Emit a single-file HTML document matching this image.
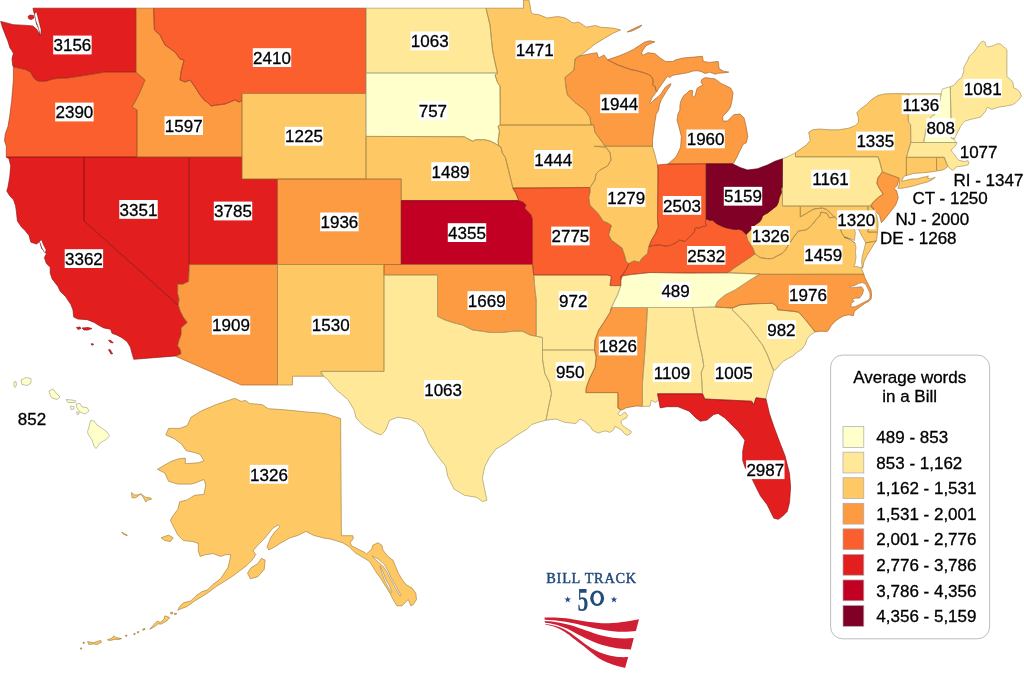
<!DOCTYPE html>
<html><head><meta charset="utf-8"><style>
html,body{margin:0;padding:0;background:#fff;}
body{width:1024px;height:673px;overflow:hidden;}
svg{display:block;will-change:transform;}
svg{font-family:"Liberation Sans",sans-serif;}
</style></head><body>
<svg width="1024" height="673" viewBox="0 0 1024 673">
<rect width="1024" height="673" fill="#fff"/>
<g stroke-width="0.5" stroke-linejoin="round">
<path d="M165.8,434.9 168.6,428.4 179.7,428.4 187.2,425.6 191.2,417.1 201.6,410.8 216.2,404.6 222.4,402.5 234.9,398.3 241.2,401.4 245.3,400.4 249.5,403.5 262,404.6 268.2,408.7 284.9,409.8 305.7,411.9 318.2,412.9 326.5,413.9 339,418.1 340.6,418.5 341.4,535.7 352.7,535.7 353.4,538.3 350.2,542.7 351.5,545.8 357.8,549 364.1,552.1 366.6,554 367.9,552.8 371.7,549 372.9,545.2 378,542.7 381.8,545.2 383,550.2 388.1,556.6 393.1,560.3 398.2,573 402,579.3 405.7,584.3 412,588.1 415.8,593.2 416.5,599.5 413.3,604.5 410.8,605.8 408.3,599.5 405.7,602 402,605.8 396.9,605.8 393.1,599.5 390.6,594.4 386.8,588.1 384.3,584.3 380.5,578 376.7,573 372.9,566.7 370.4,562.9 367.9,560.3 361.6,556.6 355.2,552.8 348.9,546.5 342.6,542.7 336.3,540.8 330,538.9 325,538.3 314,535.5 305.9,531.4 297.7,535.5 290,537.8 280,543.4 274.4,547.1 268.8,549.9 267,547.1 270.7,537.8 274.4,532.3 280,526.7 278.1,524.9 272.5,528.6 265.1,537.8 257.7,545.3 253,550.8 255.8,554.6 252.1,560.1 246.5,565.7 239.1,571.3 231.7,576.8 224.3,581.5 216.8,586.1 209.4,591.7 203.8,595.4 194.6,601 187.1,606.5 179.7,609.3 178.6,609.9 177.9,610.3 179.7,606.5 183.4,602.8 190.8,601 196.4,595.4 202,591.7 207.6,589.8 213.1,584.3 220.6,578.7 224.3,573.1 228,567.6 229.8,560.1 230.8,554.6 226.1,554.6 220.6,556.4 213.1,553.6 205.7,554.6 200.1,556.4 198.3,550.8 198.3,543.4 192.7,541.5 183.4,540.6 177.9,535 174.2,528 170.4,520.4 172.3,516.7 177.9,509.2 179.7,501.8 187.2,499.9 194.6,495.3 203.9,494.4 205.8,485.1 203.9,479.5 194.6,483.2 190.9,484.1 177.9,484.1 168.6,481.3 164.9,473 157.4,469.3 170.4,461.8 177.9,459 185.3,458.1 185.3,463.7 198.3,462.8 203.9,460.9 200.2,454.4 194.6,452.5 186.2,450.7 181.6,444.2 174.2,438.6ZM261.4,558.3 265.1,560.1 264.2,569.4 257.7,576.8 250.3,578.7 247.5,573.1 251.2,567.6 257.7,563.8ZM161.1,537.8 168.6,535.1 173.2,537.8 170.4,541.6 164.9,540.6ZM149.7,629.3 154.4,624 157.3,621.1 160.2,622.4 163.8,619.5 164.9,615.8 169.6,617.5 167.3,620.5 161.4,624 157.9,623.9 154.4,626.8ZM170.5,612.3 172.6,612.2 172.5,613.9 170.7,613.8ZM174.4,613.2 176.7,613.5 176.2,614.6 174.4,614.4ZM142.6,629 145,628.5 144.6,630 142.9,630.2ZM137.3,631.7 138.8,631.6 138.6,632.8 137.3,632.8ZM133.8,633.5 135.2,633.4 135,634.6 133.8,634.6ZM125.6,635.2 127,635.1 126.8,636.3 125.6,636.3ZM107.5,639.8 112.2,638 114,635.7 115.7,637.5 121.6,638.6 119.2,639.4 114.5,639.4 109.8,640.6ZM87.6,641.6 93.4,642.7 97,641.6 100.5,640.4 101.6,642.2 97,644.5 93.4,643.9 88.8,644.5ZM83,642.2 84.3,642.2 84.2,643.4 83,643.4ZM80.6,647.9 81.8,647.9 81.6,649.1 80.5,649.1ZM131.5,492.5 132.1,497.8 135.7,497.8 140.4,494.3 142.8,496.6 145.8,502 147.5,500.2 151.7,499 149.9,497.8 145.2,497.2 141,493.7 138,494.9 134.5,494.9ZM122,532 124,533.5 127.3,535 127,535.6 123.5,534.3 121.8,532.6Z" fill="#FEC965" stroke="#FEC965"/>
<path d="M14,382 16,381.5 16.5,385 15,387.5 14,386ZM21,380 26,377.5 31,378.5 31,383 27,385.5 22,384.5ZM49,391 53,389 56,393 60,397 57,399.5 52,398 50,395ZM66,399.5 72,400 76,401 75,402.5 68,402.5ZM70.5,406 74,406.5 74,409 71,409.5ZM76,404 80,403.5 82,407 87,407.5 89,411 85,414 80,412 77,408ZM76.5,412 79,412 79,414 77,414.5ZM90.5,420.5 94,421 97,425 103,429 107,432 109.7,435.9 106,439.5 100,443 96,448.6 94,446 92,440 88,434 87.6,431.2 89,427Z" fill="#FFFFCC" stroke="#FFFFCC"/>
<path d="M35,8.2 136,8.2 136,72 105,72 87,75 67,78 60,78.2 53.5,78.9 46.8,80.9 40,81.5 36,80.2 33.4,77.5 30.7,72.2 25.4,69.5 20,68.2 13.4,66.8 12.7,65.5 12,58.8 13.4,53.5 12,50.8 10,48 8,41.4 5.3,34.7 2.7,28 0.7,21.4 13.4,24.7 26.7,25.4 32.7,26 36.5,29 38.8,33 40,36 39,29 36.5,24 35,16 33.5,11 33,8.2ZM28,16.5 30,15 33.5,15.5 34,18 31.5,19.5 29,19Z" fill="#E31E1E" stroke="#E31E1E"/>
<path d="M13.4,66.8 20,68.2 25.4,69.5 30.7,72.2 33.4,77.5 36,80.2 40,81.5 46.8,80.9 53.5,78.9 60,78.2 67,78 87,75 105,72 136,72 145,80 140,92 135,102 132,107 137,110 137,157 6.3,157.1 6.3,146 4.5,140.7 5.4,133.6 8,126.4 9.8,115.7 11.6,101.4 12.5,90.7 13.4,80 13.4,69.5Z" fill="#FB5F2E" stroke="#FB5F2E"/>
<path d="M6.3,157.1 84,157 84,221 178.3,305.3 180.3,311.4 183.1,316.9 187.2,322.4 181,327.9 181,334.7 179,340.2 177.6,345.6 180.3,349.7 181,353.8 176.2,355.9 133.8,359.3 131.8,352.5 130.4,347 127,341.5 121.5,337.4 116.1,334.7 112,333.3 110.6,329.2 103.8,327.9 98.3,325.1 94.2,322.4 87.3,319.7 77.8,319 73.7,316.9 73,310.1 70.9,304.6 68.2,300.5 65.5,296.4 60,290.9 58,286.6 52.2,278.9 50.2,273.1 50.2,267.3 46.4,263.4 44.4,257.6 46.4,253.8 44.4,251.8 41.5,248 39.6,241.2 36.7,244.1 30.9,242.2 29,235.4 25.1,230.6 21.3,226.7 17.4,220.9 16.4,211.3 15.5,205.5 13.5,199.7 9.7,195.8 6.8,191 8,187.1 9.8,176.4 10.7,165.7 8.9,158.6ZM76.4,327.5 80,327 81,328.5 78,329.5ZM82,328 88,327.5 92,328.5 88,330 84,330ZM108.5,340.2 111,340.5 113.3,342.9 110.5,342.5ZM108.5,349.7 110,349.5 112.6,353.8 111,354ZM91.4,343.6 93.5,344 93,345 91.5,345Z" fill="#E31E1E" stroke="#E31E1E"/>
<path d="M84,157 189.25,157 189.25,264.5 188.5,281.4 185.8,282.7 183.1,284.1 177.6,284.1 177.6,293.7 179,299.1 178.3,305.3 84,221Z" fill="#E31E1E" stroke="#E31E1E"/>
<path d="M189.25,157 242,157 242,179 277.5,179 277.5,264.5 189.25,264.5Z" fill="#E31E1E" stroke="#E31E1E"/>
<path d="M189.25,264.5 277.5,264.5 277.5,385 241.25,385 176.2,356.5 176.2,355.9 181,353.8 180.3,349.7 177.6,345.6 179,340.2 181,334.7 181,327.9 187.2,322.4 183.1,316.9 180.3,311.4 178.3,305.3 179,299.1 177.6,293.7 177.6,284.1 183.1,284.1 185.8,282.7 188.5,281.4Z" fill="#FD9B42" stroke="#FD9B42"/>
<path d="M136,8.2 153.6,8.2 154.4,30 160,35 165,45 175,52 180,59 184,60 181,72 180,80 185,82 190,80 195,87 200,95 204,100 207,102 211,106 217,105 225,104 235,100 239,102 242,101 242,157 137,157 137,110 132,107 135,102 140,92 145,80 136,72Z" fill="#FD9B42" stroke="#FD9B42"/>
<path d="M153.6,8.2 366,8.2 366,93.5 242,93.5 242,101 239,102 235,100 225,104 217,105 211,106 207,102 204,100 200,95 195,87 190,80 185,82 180,80 181,72 184,60 180,59 175,52 165,45 160,35 154.4,30Z" fill="#FB5F2E" stroke="#FB5F2E"/>
<path d="M242,93.5 366,93.5 366,179 242,179Z" fill="#FEC965" stroke="#FEC965"/>
<path d="M277.5,179 401.25,179 401.25,264.5 277.5,264.5Z" fill="#FD9B42" stroke="#FD9B42"/>
<path d="M277.5,264.5 384,264.5 384,371.4 321,371.4 323.75,376.25 292.5,376.25 292.5,385 277.5,385Z" fill="#FEC965" stroke="#FEC965"/>
<path d="M366,8.2 486,8.2 490,25 492.5,50 495,62.5 497.5,73 366,73Z" fill="#FFE999" stroke="#FFE999"/>
<path d="M366,73 497.5,73 495,75 497.5,82.5 500,86 500.2,110 500.2,125 498,126.3 499.4,130.8 498.7,136.7 498,141.2 498.7,145.7 495,143.4 490.5,141.2 484.6,139.7 475.7,139.7 472.7,141.2 466.7,138.2 464.5,136.7 366,136.4Z" fill="#FFFFCC" stroke="#FFFFCC"/>
<path d="M366,136.4 464.5,136.7 466.7,138.2 472.7,141.2 475.7,139.7 484.6,139.7 490.5,141.2 495,143.4 498.7,145.7 500.9,147.1 502.4,153.1 505.4,157.5 506.9,163.5 508.4,169.4 509.8,175.4 511.3,181.3 512.8,188 515.8,193.2 518.8,200.6 401.25,200.6 401.25,179 366,179Z" fill="#FEC965" stroke="#FEC965"/>
<path d="M401.25,200.6 518.8,200.6 523.2,202.1 526.2,205.1 524.7,208.1 531.25,215 532.5,220 532.5,264.5 401.25,264.5Z" fill="#C20023" stroke="#C20023"/>
<path d="M384,264.5 532.5,264.5 533.75,275 535,290 536.25,300 536.25,336.25 530,335 522.5,331.25 512.5,331.25 502.5,332.5 490,332.5 482.5,331.25 472.5,330 462.5,325 452.5,322.5 445,320 437.5,316.25 437.5,275 384,275Z" fill="#FD9B42" stroke="#FD9B42"/>
<path d="M384,275 437.5,275 437.5,316.25 445,320 452.5,322.5 462.5,325 472.5,330 482.5,331.25 490,332.5 502.5,332.5 512.5,331.25 522.5,331.25 530,335 536.25,336.25 542.5,337.5 542.5,350 542.6,360 544.8,373.4 549.3,382.3 551.5,393.4 548.2,409 546,420.2 538.1,422.4 531.5,424.6 527,429.1 515.9,435.8 506.9,442.5 495.8,449.2 489.1,458.1 484.6,467 482.4,478.1 484.6,489.3 486.9,500.4 482.4,501.6 476.9,497.4 464.4,495.3 454,489 447.8,476.5 445.7,466.1 437.4,455.7 429,443.2 422.8,428.7 416.5,422.4 410.3,419.3 397.8,417.2 389.5,420.4 385.3,430.8 381.2,434.9 374.9,432.8 364.5,426.6 356.2,418.3 354.1,410 347.9,399.5 335.4,389.1 327,378.7 321,374.6 321,371.4 384,371.4Z" fill="#FFE999" stroke="#FFE999"/>
<path d="M533.75,275 607.5,275 611.4,276.2 610,285.6 620.8,285.6 617.5,295 613.75,302.5 610,312.5 603.75,322.5 598.75,330 595,340 594.5,350 542.5,350 542.5,337.5 536.25,336.25 536.25,300 535,290Z" fill="#FFE999" stroke="#FFE999"/>
<path d="M542.5,350 594.5,350 596.25,357.5 595,367.5 590,377.5 586.25,387.5 585.9,392.6 617.9,392.6 617.9,408 620.9,410 617.9,413.8 620.1,416 621.6,414.5 623.8,413 625.3,412.3 627.6,415.3 626.1,418.2 622.4,419.7 620.9,422 621.6,424.2 624.6,427.2 628.3,429.4 631.3,431.6 630.5,433.8 627.6,435.3 624.6,433.8 621.6,430.1 617.9,427.9 614.9,426.4 613.4,430.1 609.7,432.4 606,430.9 602.3,431.6 598.6,433.1 594.9,431.6 591.9,429.4 590.4,426.4 587.4,424.2 585.9,422 583,420.5 580,419 576,423.5 564.9,422.4 556,419 546,420.2 548.2,409 551.5,393.4 549.3,382.3 544.8,373.4 542.6,360Z" fill="#FFE999" stroke="#FFE999"/>
<path d="M611.25,307.5 647.5,307.5 645,350 642.5,382.5 642.4,406.3 636.5,406 632,406.7 626.1,407.8 622.4,409.7 620.9,410 617.9,408 617.9,392.6 585.9,392.6 586.25,387.5 590,377.5 595,367.5 596.25,357.5 594.5,350 595,340 598.75,330 603.75,322.5 610,312.5Z" fill="#FD9B42" stroke="#FD9B42"/>
<path d="M647.5,307.5 692.5,307.5 697.5,335 702.5,357.5 703.75,366.25 701.25,372.5 702.5,393.75 657.5,393.75 658.75,400 655,402.5 651.25,400 650,406.25 642.4,406.5 642.5,382.5 645,350Z" fill="#FFE999" stroke="#FFE999"/>
<path d="M692.5,307.5 715,307 732.5,308 732.5,310 740,317.5 747.5,325 755,335 762.5,345 767.5,355 771.25,365 773.5,370 772.7,375.1 770.2,381.7 768.6,388.2 767,393.1 766.1,398 766,399 756,397.8 753.8,404.5 751.6,401.2 704.8,399 702.5,393.75 701.25,372.5 703.75,366.25 702.5,357.5 697.5,335Z" fill="#FFE999" stroke="#FFE999"/>
<path d="M657.5,393.75 702.5,393.75 704.8,399 751.6,401.2 753.8,404.5 756,397.8 766,399 769.4,413.4 773.9,426.8 780.6,444.6 785,455.8 789.5,473.6 790.6,487 789.5,502.6 787.2,511.5 782.8,516 778.3,519.3 773.9,518.2 771.6,513.7 767.2,504.8 760.5,495.9 756,487 751.6,478 744.9,467 742.7,460.3 742.7,451.3 744.9,440.2 738.2,431.3 729.3,422.4 724.8,417.9 718.1,413.4 713.7,414.5 707,420.1 700.3,421.2 695.9,417.9 689.2,411.2 678,406.7 666.9,406.7 660.2,407.9 658.75,400Z" fill="#E31E1E" stroke="#E31E1E"/>
<path d="M732.5,308 740,304.9 755,303.75 772.7,303.3 776.8,306.5 777.6,309.8 793.9,311.4 798.8,312.3 805.3,319.6 811.9,327.8 815.1,331.9 810.2,335.1 807,339.2 805.3,344.1 802.1,349 797.2,352.3 792.3,356.4 787.4,358.8 783.3,361.3 779.2,365.3 775.1,370.2 773.5,370 771.25,365 767.5,355 762.5,345 755,335 747.5,325 740,317.5 732.5,310Z" fill="#FFE999" stroke="#FFE999"/>
<path d="M760,274.3 863.7,274.2 864.7,277.4 866.8,281.5 868.9,285.7 871,289.8 871.5,295 871,299.2 868.9,301.3 864.7,303.4 860.6,306.5 856.4,309.6 854.3,311.7 853.3,315.8 849.1,314.8 843.9,315.8 839.8,317.9 835.6,321 831.4,325.2 828.3,330.4 827.3,331.4 820,331.25 815.1,331.9 811.9,327.8 805.3,319.6 798.8,312.3 793.9,311.4 777.6,309.8 776.8,306.5 772.7,303.3 755,303.75 740,304.9 732.5,308 715,307 717.5,301.25 725,295 735,290 742.5,285 750,280Z" fill="#FD9B42" stroke="#FD9B42"/>
<path d="M620.5,276 650,272.5 687.5,273 728,272.8 760,273.75 750,280 742.5,285 735,290 725,295 717.5,301.25 715,307 692.5,307.5 647.5,307.5 611.25,307.5 613.75,302.5 617.5,295 620.8,285.6Z" fill="#FFFFCC" stroke="#FFFFCC"/>
<path d="M628.8,263.5 634.1,260.9 639.5,262.2 641.5,258.8 647.5,253.5 648.8,246.8 652.9,245.5 659.5,244.8 664.9,246.1 670.2,245.5 675.6,242.8 679.6,240.1 685,241.5 689,237.4 691.8,234.6 694.5,231.7 695,228.7 695.9,227.5 698.9,228.1 703.1,226.3 705.4,226.3 706.6,225.1 705.7,223.9 705.4,220.3 706.25,219.5 707.8,219.2 709.3,220.3 712.3,220 713.8,221.2 715.5,222.7 716.8,223.7 720.4,225.5 724.8,227.3 728.4,228.2 732.8,229.1 735.5,229.5 738.2,229.1 741.8,230 744.4,232.6 746.2,234.4 747.5,240 752.5,247.5 755,253.75 750,257.5 742.5,262.5 735,267.5 728,272.8 687.5,273 650,272.5 630,274.5 621.5,276 626.5,269Z" fill="#FB5F2E" stroke="#FB5F2E"/>
<path d="M728,272.8 735,267.5 742.5,262.5 750,257.5 755,253.75 760,257.5 767.5,258.75 772.4,258.5 777,256 781.9,253.7 785.5,250 789,244 793.8,237 798.5,231 805.7,230 809.2,227.6 812.8,224 816.4,219.2 820,215.7 821,212 827,213.3 829.5,218 834.2,216.9 837.1,219 840.7,229.7 841.9,233.3 844.3,236.8 850.2,239.2 855,242.8 865.6,242.8 876.3,241 874,244 870.4,249.9 866.8,255.8 863.9,261.8 862.7,268.3 862.1,266.5 860.9,267.7 862,270 864,274.3 760,274.3Z" fill="#FEC965" stroke="#FEC965"/>
<path d="M782.3,187.1 782.5,206 800.3,206 800.3,216.9 805.7,213.9 810.4,210.9 814,209 817.6,208.5 822.3,208 827,209.7 830.6,213.3 834.2,216.9 829.5,218 827,213.3 821,212 820,215.7 816.4,219.2 812.8,224 809.2,227.6 805.7,230 798.5,231 793.8,237 789,244 785.5,250 781.9,253.7 777,256 772.4,258.5 767.5,258.75 760,257.5 755,253.75 752.5,247.5 747.5,240 746.2,234.4 748,232.6 750.7,230 754.3,225.5 756.9,223.7 759.6,221.9 761.4,219.3 762.3,216.6 764.1,214.8 767.6,213 772.1,209.4 776.6,205.9 778.3,202.3 779.2,197.8 781.5,192.5 781,188.9Z" fill="#FEC965" stroke="#FEC965"/>
<path d="M800.3,206 868,206 868,232.1 877.5,232.1 876.9,238 876.3,241 865.6,242.8 855,242.8 850.2,239.2 844.3,236.8 841.9,233.3 840.7,229.7 837.1,219 834.2,216.9 830.6,213.3 827,209.7 822.3,208 817.6,208.5 814,209 810.4,210.9 805.7,213.9 800.3,216.9Z" fill="#FEC965" stroke="#FEC965"/>
<path d="M868,206 870.4,204.8 872.8,207.1 876.9,216.6 878.1,223.8 877.5,232.1 868,232.1Z" fill="#FEC965" stroke="#FEC965"/>
<path d="M782.5,158.75 788.75,156.25 795.5,152.7 795.5,156.8 878,156.8 879.7,161.7 882.3,171.9 877.8,178.1 876.9,183.5 879.6,188.8 883.2,194.2 877.8,197.7 872.5,203.1 870.7,206.6 867.5,206 782.5,206Z" fill="#FFE999" stroke="#FFE999"/>
<path d="M882.3,171.9 899.2,178.1 897.4,185.3 893.9,188.8 896.5,190.6 898.3,197.7 895.7,204.9 890.3,212 883.2,220.9 881.4,222.7 879.6,215.6 874.3,210.2 870.7,206.6 872.5,203.1 877.8,197.7 883.2,194.2 879.6,188.8 876.9,183.5 877.8,178.1Z" fill="#FD9B42" stroke="#FD9B42"/>
<path d="M795.5,152.7 801.2,148.6 806.1,145.3 810.2,140.4 809.4,135.5 808.6,132.3 812.7,129.8 819.2,129 829,129.8 838.8,129.8 848.6,128.2 855.2,125.7 858.4,122.5 858.4,117.6 856.8,112.7 860,109.4 866.6,104.5 871.5,99.6 878,95.5 884.6,93.9 894.4,93.6 909,93.8 908,110 908.4,122.3 910.6,124.4 910.8,142.5 906.4,157.3 906.4,175 903.3,177 901.7,181.3 905.6,180.5 910.3,179.3 913.4,178.9 917.3,178.9 922.8,177.3 926.7,176.6 928.3,175.8 927.5,178.1 930.6,178.9 935.3,177.3 932.2,179.7 927.5,182 921.3,183.6 915.8,185.2 910.3,186.7 905.6,187.5 901.7,188.3 897.8,188.3 899.5,184 899.2,178.1 882.3,171.9 879.7,161.7 878,156.8 795.5,156.8Z" fill="#FEC965" stroke="#FEC965"/>
<path d="M909,93.8 941.2,93.8 939.6,101.9 938,107.2 934.7,114.7 932,115.8 930.4,118 928.3,122.3 926.7,126.6 925.6,131.9 924,140 924,142.5 910.8,142.5 910.6,124.4 908.4,122.3 908,110Z" fill="#FFE999" stroke="#FFE999"/>
<path d="M941.2,93.8 942.3,89 949.8,86.8 950.3,86.8 951.4,138 954.1,139.4 956,142.5 924,142.5 924,140 925.6,131.9 926.7,126.6 928.3,122.3 930.4,118 932,115.8 934.7,114.7 938,107.2 939.6,101.9Z" fill="#FFFFCC" stroke="#FFFFCC"/>
<path d="M950.3,86.8 954.4,84.9 957.5,80.7 961.7,77.6 963.8,71.4 963.8,67.2 967.9,59.9 969,56.8 974.2,51.6 979.4,44.3 981.5,41.7 983.5,41.2 985.6,42.8 985.6,45.4 987.7,46.9 992.9,45.9 997.1,43.8 1000.2,43.8 1003.3,46.4 1006.9,49.5 1006.9,76.6 1010.6,79.7 1012.7,81.8 1013.7,88 1016.8,89.1 1019.9,92.2 1021.5,96.3 1018.9,99.5 1015.8,102.6 1012.7,104.7 1005,106.2 998.1,107.2 991.7,109.4 987.4,107.2 985.2,111.5 980.9,116.9 976.6,118 972.3,119 968,120.1 964.8,121.2 962.7,123.3 960.5,126.6 958.4,130.9 956.2,135.2 954.1,139.4 951.4,138Z" fill="#FFE999" stroke="#FFE999"/>
<path d="M910.8,142.5 956,142.5 957.1,142.5 956.3,144.3 954.5,146.9 950.9,150 952.5,152.3 954.8,154.7 956.4,157.8 958.8,160.2 964.2,161.5 968.1,160.7 968.9,163.7 968.1,164.8 965,165.6 960.3,166.4 956.4,166.8 954.8,168.8 952.5,170.3 949.4,168 947.8,165.6 944.2,157.3 906.4,157.3Z" fill="#FFE999" stroke="#FFE999"/>
<path d="M906.4,157.3 936.5,157.3 936.6,171 930,172 922.8,172.8 913.4,173.4 905.6,175.8 906.4,175Z" fill="#FEC965" stroke="#FEC965"/>
<path d="M936.5,157.3 944.2,157.3 946,163 947.8,166.5 944,169.5 940,170.5 936.6,171Z" fill="#FEC965" stroke="#FEC965"/>
<path d="M607.5,59.8 618,56.3 626.8,52.7 633.8,49.2 639.1,45.7 644.4,42.2 649.6,40.8 654.9,41.8 649.6,43.9 646.1,45.7 643.5,49.2 641.7,52.7 642.6,55.4 647.9,52.7 654.9,53.6 660.2,58 665.5,61.5 672.5,61.5 676,59.8 683.1,58 693.6,57.1 702.4,56.3 703.3,61.5 709.4,62.4 718.2,61.5 719.1,68.6 723.5,71.2 728.8,72.1 727.5,72.5 718,73.3 715,74.2 713.4,73.5 709.3,72.1 707.9,72.8 705.2,73.5 701,71.4 697,70.7 692.8,71.1 687.4,72.8 683.3,73.5 679.2,74.2 675.1,74.8 672.3,75.5 669.6,77.6 667.6,76.2 665.5,78.9 662.1,83.7 658.7,88.5 656.6,92 655.9,90.6 655.3,86.5 652.5,85.1 653.2,81.7 652.5,78.3 650.5,75.5 647.7,74.2 645,73.1 637.1,70.8 630.3,69.4 618,65ZM715,78.9 721,83.4 730.6,88 733,92.8 732,100.6 730.6,106.9 727.5,111.6 722.8,116.25 722.8,121 727.5,121 733.75,114.7 740,114 744,117.8 746.25,127.2 747.8,136.6 746.25,142.8 743,144.4 740,150.6 737,156.9 733.75,163 732.5,163.75 706.25,163.75 668,164 676,157 680.6,147.5 681.4,136.6 679,127 677,120 678,114 679.9,110 679.9,106.3 680.5,102.2 681.9,98.8 684,95.3 686,94 689.4,90.6 692.8,90.6 692.2,96 694.2,97.4 695.6,94 697,88.5 699.7,86.5 703.1,85.1 701,82.4 701.7,79.6 705.2,77.6 709.9,78.3ZM627,32 635,28 642,25 640,27 632,31Z" fill="#FD9B42" stroke="#FD9B42"/>
<path d="M575,59 577.6,56.3 586.4,54.5 596.9,52.7 598.7,58 604,55 607.5,59.8 618,65 630.3,69.4 637.1,70.8 645,73.1 647.7,74.2 650.5,75.5 652.5,78.3 653.2,81.7 652.5,85.1 655.3,86.5 655.9,90.6 656.6,92 655.9,92.6 651.8,98.1 649.8,102.9 650.5,103.5 653.9,100.1 658,96.7 661.4,93.3 663.5,89.9 665.5,87.1 668.2,85.1 671,83.7 670.3,85.8 666.9,90.6 664.1,95.3 661.4,99.4 659.4,104.9 658.7,110 656.2,114.2 655,121.3 653.8,130 652.5,140 652.5,146.25 605,146.25 602.5,142.5 595,132.5 593.75,125 591,125 590,117.5 585,110 575,102.5 567.5,95 566,87.5 565,77.5 574,70Z" fill="#FD9B42" stroke="#FD9B42"/>
<path d="M486,8.2 523.5,8.2 523.5,0 528.8,0 529.8,3.9 531.3,12.7 533.7,14.2 538.6,14.6 542.5,16.1 547.4,18.1 553.2,17.1 558.1,16.6 564,17.6 567.9,19.5 571.8,22.5 574.7,22.9 577.7,22 580,22.9 586.4,27.2 595.2,25.5 600.4,27.2 612.7,28.1 620.6,29.9 612.7,33.4 603.9,38.7 595.2,43.9 586.4,51 579.3,56.3 575,59 574,70 565,77.5 566,87.5 567.5,95 575,102.5 585,110 590,117.5 591,125 500.2,125 500.2,110 500,86 497.5,82.5 495,75 497.5,73 495,62.5 492.5,50 490,25Z" fill="#FEC965" stroke="#FEC965"/>
<path d="M500.2,125 591,125 593.75,125 595,132.5 602.5,142.5 606,147.5 610,152.5 611,160 607.5,166 600,170 596,174 595,180 590,187.5 512.8,188 511.3,181.3 509.8,175.4 508.4,169.4 506.9,163.5 505.4,157.5 502.4,153.1 500.9,147.1 498.7,145.7 498,141.2 498.7,136.7 499.4,130.8 498,126.3Z" fill="#FEC965" stroke="#FEC965"/>
<path d="M512.8,188 590,187.5 590,192.5 588.75,197.5 590,205.3 598,213.4 603.4,221.4 607.4,222.7 611.4,225.4 608.7,234.8 611.4,240.1 616.7,244.1 622.1,248.1 624.8,256.2 626.1,261.5 628.8,263.5 626.5,269 622.5,275.5 620.8,280.2 620.8,285.6 610,285.6 611.4,276.2 607.5,275 533.75,275 532.5,264.5 532.5,220 531.25,215 524.7,208.1 526.2,205.1 523.2,202.1 518.8,200.6 515.8,193.2Z" fill="#FB5F2E" stroke="#FB5F2E"/>
<path d="M594,146.25 652.5,146.25 655,155 657.5,165 658,170 657.5,220.1 658.2,226.7 655.5,233.4 651.5,240.1 648.8,246.8 647.5,253.5 641.5,258.8 639.5,262.2 634.1,260.9 628.8,263.5 626.1,261.5 624.8,256.2 622.1,248.1 616.7,244.1 611.4,240.1 608.7,234.8 611.4,225.4 607.4,222.7 603.4,221.4 598,213.4 590,205.3 588.75,197.5 590,192.5 590,187.5 595,180 596,174 600,170 607.5,166 611,160 610,152.5 606,147.5Z" fill="#FEC965" stroke="#FEC965"/>
<path d="M657.5,165 668,164 706.25,163.75 706.25,219.5 705.4,220.3 705.7,223.9 706.6,225.1 705.4,226.3 703.1,226.3 698.9,228.1 695.9,227.5 695,228.7 694.5,231.7 691.8,234.6 689,237.4 685,241.5 679.6,240.1 675.6,242.8 670.2,245.5 664.9,246.1 659.5,244.8 652.9,245.5 648.8,246.8 651.5,240.1 655.5,233.4 658.2,226.7 657.5,220.1 658,170Z" fill="#FB5F2E" stroke="#FB5F2E"/>
<path d="M706.25,163.75 732.5,163.75 740,167.5 747.5,170 757.5,168.75 767.5,165 775,161.25 782.5,158.75 782.3,187.1 781,188.9 781.5,192.5 779.2,197.8 778.3,202.3 776.6,205.9 772.1,209.4 767.6,213 764.1,214.8 762.3,216.6 761.4,219.3 759.6,221.9 756.9,223.7 754.3,225.5 750.7,230 748,232.6 746.2,234.4 744.4,232.6 741.8,230 738.2,229.1 735.5,229.5 732.8,229.1 728.4,228.2 724.8,227.3 720.4,225.5 716.8,223.7 715.5,222.7 713.8,221.2 712.3,220 709.3,220.3 707.8,219.2 706.25,219.5Z" fill="#800026" stroke="#800026"/>
</g>
<g fill="none" stroke="#000" stroke-width="0.8" stroke-linejoin="round" opacity="0.3"><path d="M165.8,434.9 168.6,428.4 179.7,428.4 187.2,425.6 191.2,417.1 201.6,410.8 216.2,404.6 222.4,402.5 234.9,398.3 241.2,401.4 245.3,400.4 249.5,403.5 262,404.6 268.2,408.7 284.9,409.8 305.7,411.9 318.2,412.9 326.5,413.9 339,418.1 340.6,418.5 341.4,535.7 352.7,535.7 353.4,538.3 350.2,542.7 351.5,545.8 357.8,549 364.1,552.1 366.6,554 367.9,552.8 371.7,549 372.9,545.2 378,542.7 381.8,545.2 383,550.2 388.1,556.6 393.1,560.3 398.2,573 402,579.3 405.7,584.3 412,588.1 415.8,593.2 416.5,599.5 413.3,604.5 410.8,605.8 408.3,599.5 405.7,602 402,605.8 396.9,605.8 393.1,599.5 390.6,594.4 386.8,588.1 384.3,584.3 380.5,578 376.7,573 372.9,566.7 370.4,562.9 367.9,560.3 361.6,556.6 355.2,552.8 348.9,546.5 342.6,542.7 336.3,540.8 330,538.9 325,538.3 314,535.5 305.9,531.4 297.7,535.5 290,537.8 280,543.4 274.4,547.1 268.8,549.9 267,547.1 270.7,537.8 274.4,532.3 280,526.7 278.1,524.9 272.5,528.6 265.1,537.8 257.7,545.3 253,550.8 255.8,554.6 252.1,560.1 246.5,565.7 239.1,571.3 231.7,576.8 224.3,581.5 216.8,586.1 209.4,591.7 203.8,595.4 194.6,601 187.1,606.5 179.7,609.3 178.6,609.9 177.9,610.3 179.7,606.5 183.4,602.8 190.8,601 196.4,595.4 202,591.7 207.6,589.8 213.1,584.3 220.6,578.7 224.3,573.1 228,567.6 229.8,560.1 230.8,554.6 226.1,554.6 220.6,556.4 213.1,553.6 205.7,554.6 200.1,556.4 198.3,550.8 198.3,543.4 192.7,541.5 183.4,540.6 177.9,535 174.2,528 170.4,520.4 172.3,516.7 177.9,509.2 179.7,501.8 187.2,499.9 194.6,495.3 203.9,494.4 205.8,485.1 203.9,479.5 194.6,483.2 190.9,484.1 177.9,484.1 168.6,481.3 164.9,473 157.4,469.3 170.4,461.8 177.9,459 185.3,458.1 185.3,463.7 198.3,462.8 203.9,460.9 200.2,454.4 194.6,452.5 186.2,450.7 181.6,444.2 174.2,438.6ZM261.4,558.3 265.1,560.1 264.2,569.4 257.7,576.8 250.3,578.7 247.5,573.1 251.2,567.6 257.7,563.8ZM161.1,537.8 168.6,535.1 173.2,537.8 170.4,541.6 164.9,540.6ZM149.7,629.3 154.4,624 157.3,621.1 160.2,622.4 163.8,619.5 164.9,615.8 169.6,617.5 167.3,620.5 161.4,624 157.9,623.9 154.4,626.8ZM170.5,612.3 172.6,612.2 172.5,613.9 170.7,613.8ZM174.4,613.2 176.7,613.5 176.2,614.6 174.4,614.4ZM142.6,629 145,628.5 144.6,630 142.9,630.2ZM137.3,631.7 138.8,631.6 138.6,632.8 137.3,632.8ZM133.8,633.5 135.2,633.4 135,634.6 133.8,634.6ZM125.6,635.2 127,635.1 126.8,636.3 125.6,636.3ZM107.5,639.8 112.2,638 114,635.7 115.7,637.5 121.6,638.6 119.2,639.4 114.5,639.4 109.8,640.6ZM87.6,641.6 93.4,642.7 97,641.6 100.5,640.4 101.6,642.2 97,644.5 93.4,643.9 88.8,644.5ZM83,642.2 84.3,642.2 84.2,643.4 83,643.4ZM80.6,647.9 81.8,647.9 81.6,649.1 80.5,649.1ZM131.5,492.5 132.1,497.8 135.7,497.8 140.4,494.3 142.8,496.6 145.8,502 147.5,500.2 151.7,499 149.9,497.8 145.2,497.2 141,493.7 138,494.9 134.5,494.9ZM122,532 124,533.5 127.3,535 127,535.6 123.5,534.3 121.8,532.6Z"/><path d="M14,382 16,381.5 16.5,385 15,387.5 14,386ZM21,380 26,377.5 31,378.5 31,383 27,385.5 22,384.5ZM49,391 53,389 56,393 60,397 57,399.5 52,398 50,395ZM66,399.5 72,400 76,401 75,402.5 68,402.5ZM70.5,406 74,406.5 74,409 71,409.5ZM76,404 80,403.5 82,407 87,407.5 89,411 85,414 80,412 77,408ZM76.5,412 79,412 79,414 77,414.5ZM90.5,420.5 94,421 97,425 103,429 107,432 109.7,435.9 106,439.5 100,443 96,448.6 94,446 92,440 88,434 87.6,431.2 89,427Z"/><path d="M35,8.2 136,8.2 136,72 105,72 87,75 67,78 60,78.2 53.5,78.9 46.8,80.9 40,81.5 36,80.2 33.4,77.5 30.7,72.2 25.4,69.5 20,68.2 13.4,66.8 12.7,65.5 12,58.8 13.4,53.5 12,50.8 10,48 8,41.4 5.3,34.7 2.7,28 0.7,21.4 13.4,24.7 26.7,25.4 32.7,26 36.5,29 38.8,33 40,36 39,29 36.5,24 35,16 33.5,11 33,8.2ZM28,16.5 30,15 33.5,15.5 34,18 31.5,19.5 29,19Z"/><path d="M13.4,66.8 20,68.2 25.4,69.5 30.7,72.2 33.4,77.5 36,80.2 40,81.5 46.8,80.9 53.5,78.9 60,78.2 67,78 87,75 105,72 136,72 145,80 140,92 135,102 132,107 137,110 137,157 6.3,157.1 6.3,146 4.5,140.7 5.4,133.6 8,126.4 9.8,115.7 11.6,101.4 12.5,90.7 13.4,80 13.4,69.5Z"/><path d="M6.3,157.1 84,157 84,221 178.3,305.3 180.3,311.4 183.1,316.9 187.2,322.4 181,327.9 181,334.7 179,340.2 177.6,345.6 180.3,349.7 181,353.8 176.2,355.9 133.8,359.3 131.8,352.5 130.4,347 127,341.5 121.5,337.4 116.1,334.7 112,333.3 110.6,329.2 103.8,327.9 98.3,325.1 94.2,322.4 87.3,319.7 77.8,319 73.7,316.9 73,310.1 70.9,304.6 68.2,300.5 65.5,296.4 60,290.9 58,286.6 52.2,278.9 50.2,273.1 50.2,267.3 46.4,263.4 44.4,257.6 46.4,253.8 44.4,251.8 41.5,248 39.6,241.2 36.7,244.1 30.9,242.2 29,235.4 25.1,230.6 21.3,226.7 17.4,220.9 16.4,211.3 15.5,205.5 13.5,199.7 9.7,195.8 6.8,191 8,187.1 9.8,176.4 10.7,165.7 8.9,158.6ZM76.4,327.5 80,327 81,328.5 78,329.5ZM82,328 88,327.5 92,328.5 88,330 84,330ZM108.5,340.2 111,340.5 113.3,342.9 110.5,342.5ZM108.5,349.7 110,349.5 112.6,353.8 111,354ZM91.4,343.6 93.5,344 93,345 91.5,345Z"/><path d="M84,157 189.25,157 189.25,264.5 188.5,281.4 185.8,282.7 183.1,284.1 177.6,284.1 177.6,293.7 179,299.1 178.3,305.3 84,221Z"/><path d="M189.25,157 242,157 242,179 277.5,179 277.5,264.5 189.25,264.5Z"/><path d="M189.25,264.5 277.5,264.5 277.5,385 241.25,385 176.2,356.5 176.2,355.9 181,353.8 180.3,349.7 177.6,345.6 179,340.2 181,334.7 181,327.9 187.2,322.4 183.1,316.9 180.3,311.4 178.3,305.3 179,299.1 177.6,293.7 177.6,284.1 183.1,284.1 185.8,282.7 188.5,281.4Z"/><path d="M136,8.2 153.6,8.2 154.4,30 160,35 165,45 175,52 180,59 184,60 181,72 180,80 185,82 190,80 195,87 200,95 204,100 207,102 211,106 217,105 225,104 235,100 239,102 242,101 242,157 137,157 137,110 132,107 135,102 140,92 145,80 136,72Z"/><path d="M153.6,8.2 366,8.2 366,93.5 242,93.5 242,101 239,102 235,100 225,104 217,105 211,106 207,102 204,100 200,95 195,87 190,80 185,82 180,80 181,72 184,60 180,59 175,52 165,45 160,35 154.4,30Z"/><path d="M242,93.5 366,93.5 366,179 242,179Z"/><path d="M277.5,179 401.25,179 401.25,264.5 277.5,264.5Z"/><path d="M277.5,264.5 384,264.5 384,371.4 321,371.4 323.75,376.25 292.5,376.25 292.5,385 277.5,385Z"/><path d="M366,8.2 486,8.2 490,25 492.5,50 495,62.5 497.5,73 366,73Z"/><path d="M366,73 497.5,73 495,75 497.5,82.5 500,86 500.2,110 500.2,125 498,126.3 499.4,130.8 498.7,136.7 498,141.2 498.7,145.7 495,143.4 490.5,141.2 484.6,139.7 475.7,139.7 472.7,141.2 466.7,138.2 464.5,136.7 366,136.4Z"/><path d="M366,136.4 464.5,136.7 466.7,138.2 472.7,141.2 475.7,139.7 484.6,139.7 490.5,141.2 495,143.4 498.7,145.7 500.9,147.1 502.4,153.1 505.4,157.5 506.9,163.5 508.4,169.4 509.8,175.4 511.3,181.3 512.8,188 515.8,193.2 518.8,200.6 401.25,200.6 401.25,179 366,179Z"/><path d="M401.25,200.6 518.8,200.6 523.2,202.1 526.2,205.1 524.7,208.1 531.25,215 532.5,220 532.5,264.5 401.25,264.5Z"/><path d="M384,264.5 532.5,264.5 533.75,275 535,290 536.25,300 536.25,336.25 530,335 522.5,331.25 512.5,331.25 502.5,332.5 490,332.5 482.5,331.25 472.5,330 462.5,325 452.5,322.5 445,320 437.5,316.25 437.5,275 384,275Z"/><path d="M384,275 437.5,275 437.5,316.25 445,320 452.5,322.5 462.5,325 472.5,330 482.5,331.25 490,332.5 502.5,332.5 512.5,331.25 522.5,331.25 530,335 536.25,336.25 542.5,337.5 542.5,350 542.6,360 544.8,373.4 549.3,382.3 551.5,393.4 548.2,409 546,420.2 538.1,422.4 531.5,424.6 527,429.1 515.9,435.8 506.9,442.5 495.8,449.2 489.1,458.1 484.6,467 482.4,478.1 484.6,489.3 486.9,500.4 482.4,501.6 476.9,497.4 464.4,495.3 454,489 447.8,476.5 445.7,466.1 437.4,455.7 429,443.2 422.8,428.7 416.5,422.4 410.3,419.3 397.8,417.2 389.5,420.4 385.3,430.8 381.2,434.9 374.9,432.8 364.5,426.6 356.2,418.3 354.1,410 347.9,399.5 335.4,389.1 327,378.7 321,374.6 321,371.4 384,371.4Z"/><path d="M533.75,275 607.5,275 611.4,276.2 610,285.6 620.8,285.6 617.5,295 613.75,302.5 610,312.5 603.75,322.5 598.75,330 595,340 594.5,350 542.5,350 542.5,337.5 536.25,336.25 536.25,300 535,290Z"/><path d="M542.5,350 594.5,350 596.25,357.5 595,367.5 590,377.5 586.25,387.5 585.9,392.6 617.9,392.6 617.9,408 620.9,410 617.9,413.8 620.1,416 621.6,414.5 623.8,413 625.3,412.3 627.6,415.3 626.1,418.2 622.4,419.7 620.9,422 621.6,424.2 624.6,427.2 628.3,429.4 631.3,431.6 630.5,433.8 627.6,435.3 624.6,433.8 621.6,430.1 617.9,427.9 614.9,426.4 613.4,430.1 609.7,432.4 606,430.9 602.3,431.6 598.6,433.1 594.9,431.6 591.9,429.4 590.4,426.4 587.4,424.2 585.9,422 583,420.5 580,419 576,423.5 564.9,422.4 556,419 546,420.2 548.2,409 551.5,393.4 549.3,382.3 544.8,373.4 542.6,360Z"/><path d="M611.25,307.5 647.5,307.5 645,350 642.5,382.5 642.4,406.3 636.5,406 632,406.7 626.1,407.8 622.4,409.7 620.9,410 617.9,408 617.9,392.6 585.9,392.6 586.25,387.5 590,377.5 595,367.5 596.25,357.5 594.5,350 595,340 598.75,330 603.75,322.5 610,312.5Z"/><path d="M647.5,307.5 692.5,307.5 697.5,335 702.5,357.5 703.75,366.25 701.25,372.5 702.5,393.75 657.5,393.75 658.75,400 655,402.5 651.25,400 650,406.25 642.4,406.5 642.5,382.5 645,350Z"/><path d="M692.5,307.5 715,307 732.5,308 732.5,310 740,317.5 747.5,325 755,335 762.5,345 767.5,355 771.25,365 773.5,370 772.7,375.1 770.2,381.7 768.6,388.2 767,393.1 766.1,398 766,399 756,397.8 753.8,404.5 751.6,401.2 704.8,399 702.5,393.75 701.25,372.5 703.75,366.25 702.5,357.5 697.5,335Z"/><path d="M657.5,393.75 702.5,393.75 704.8,399 751.6,401.2 753.8,404.5 756,397.8 766,399 769.4,413.4 773.9,426.8 780.6,444.6 785,455.8 789.5,473.6 790.6,487 789.5,502.6 787.2,511.5 782.8,516 778.3,519.3 773.9,518.2 771.6,513.7 767.2,504.8 760.5,495.9 756,487 751.6,478 744.9,467 742.7,460.3 742.7,451.3 744.9,440.2 738.2,431.3 729.3,422.4 724.8,417.9 718.1,413.4 713.7,414.5 707,420.1 700.3,421.2 695.9,417.9 689.2,411.2 678,406.7 666.9,406.7 660.2,407.9 658.75,400Z"/><path d="M732.5,308 740,304.9 755,303.75 772.7,303.3 776.8,306.5 777.6,309.8 793.9,311.4 798.8,312.3 805.3,319.6 811.9,327.8 815.1,331.9 810.2,335.1 807,339.2 805.3,344.1 802.1,349 797.2,352.3 792.3,356.4 787.4,358.8 783.3,361.3 779.2,365.3 775.1,370.2 773.5,370 771.25,365 767.5,355 762.5,345 755,335 747.5,325 740,317.5 732.5,310Z"/><path d="M760,274.3 863.7,274.2 864.7,277.4 866.8,281.5 868.9,285.7 871,289.8 871.5,295 871,299.2 868.9,301.3 864.7,303.4 860.6,306.5 856.4,309.6 854.3,311.7 853.3,315.8 849.1,314.8 843.9,315.8 839.8,317.9 835.6,321 831.4,325.2 828.3,330.4 827.3,331.4 820,331.25 815.1,331.9 811.9,327.8 805.3,319.6 798.8,312.3 793.9,311.4 777.6,309.8 776.8,306.5 772.7,303.3 755,303.75 740,304.9 732.5,308 715,307 717.5,301.25 725,295 735,290 742.5,285 750,280Z"/><path d="M620.5,276 650,272.5 687.5,273 728,272.8 760,273.75 750,280 742.5,285 735,290 725,295 717.5,301.25 715,307 692.5,307.5 647.5,307.5 611.25,307.5 613.75,302.5 617.5,295 620.8,285.6Z"/><path d="M628.8,263.5 634.1,260.9 639.5,262.2 641.5,258.8 647.5,253.5 648.8,246.8 652.9,245.5 659.5,244.8 664.9,246.1 670.2,245.5 675.6,242.8 679.6,240.1 685,241.5 689,237.4 691.8,234.6 694.5,231.7 695,228.7 695.9,227.5 698.9,228.1 703.1,226.3 705.4,226.3 706.6,225.1 705.7,223.9 705.4,220.3 706.25,219.5 707.8,219.2 709.3,220.3 712.3,220 713.8,221.2 715.5,222.7 716.8,223.7 720.4,225.5 724.8,227.3 728.4,228.2 732.8,229.1 735.5,229.5 738.2,229.1 741.8,230 744.4,232.6 746.2,234.4 747.5,240 752.5,247.5 755,253.75 750,257.5 742.5,262.5 735,267.5 728,272.8 687.5,273 650,272.5 630,274.5 621.5,276 626.5,269Z"/><path d="M728,272.8 735,267.5 742.5,262.5 750,257.5 755,253.75 760,257.5 767.5,258.75 772.4,258.5 777,256 781.9,253.7 785.5,250 789,244 793.8,237 798.5,231 805.7,230 809.2,227.6 812.8,224 816.4,219.2 820,215.7 821,212 827,213.3 829.5,218 834.2,216.9 837.1,219 840.7,229.7 841.9,233.3 844.3,236.8 850.2,239.2 855,242.8 865.6,242.8 876.3,241 874,244 870.4,249.9 866.8,255.8 863.9,261.8 862.7,268.3 862.1,266.5 860.9,267.7 862,270 864,274.3 760,274.3Z"/><path d="M782.3,187.1 782.5,206 800.3,206 800.3,216.9 805.7,213.9 810.4,210.9 814,209 817.6,208.5 822.3,208 827,209.7 830.6,213.3 834.2,216.9 829.5,218 827,213.3 821,212 820,215.7 816.4,219.2 812.8,224 809.2,227.6 805.7,230 798.5,231 793.8,237 789,244 785.5,250 781.9,253.7 777,256 772.4,258.5 767.5,258.75 760,257.5 755,253.75 752.5,247.5 747.5,240 746.2,234.4 748,232.6 750.7,230 754.3,225.5 756.9,223.7 759.6,221.9 761.4,219.3 762.3,216.6 764.1,214.8 767.6,213 772.1,209.4 776.6,205.9 778.3,202.3 779.2,197.8 781.5,192.5 781,188.9Z"/><path d="M800.3,206 868,206 868,232.1 877.5,232.1 876.9,238 876.3,241 865.6,242.8 855,242.8 850.2,239.2 844.3,236.8 841.9,233.3 840.7,229.7 837.1,219 834.2,216.9 830.6,213.3 827,209.7 822.3,208 817.6,208.5 814,209 810.4,210.9 805.7,213.9 800.3,216.9Z"/><path d="M868,206 870.4,204.8 872.8,207.1 876.9,216.6 878.1,223.8 877.5,232.1 868,232.1Z"/><path d="M782.5,158.75 788.75,156.25 795.5,152.7 795.5,156.8 878,156.8 879.7,161.7 882.3,171.9 877.8,178.1 876.9,183.5 879.6,188.8 883.2,194.2 877.8,197.7 872.5,203.1 870.7,206.6 867.5,206 782.5,206Z"/><path d="M882.3,171.9 899.2,178.1 897.4,185.3 893.9,188.8 896.5,190.6 898.3,197.7 895.7,204.9 890.3,212 883.2,220.9 881.4,222.7 879.6,215.6 874.3,210.2 870.7,206.6 872.5,203.1 877.8,197.7 883.2,194.2 879.6,188.8 876.9,183.5 877.8,178.1Z"/><path d="M795.5,152.7 801.2,148.6 806.1,145.3 810.2,140.4 809.4,135.5 808.6,132.3 812.7,129.8 819.2,129 829,129.8 838.8,129.8 848.6,128.2 855.2,125.7 858.4,122.5 858.4,117.6 856.8,112.7 860,109.4 866.6,104.5 871.5,99.6 878,95.5 884.6,93.9 894.4,93.6 909,93.8 908,110 908.4,122.3 910.6,124.4 910.8,142.5 906.4,157.3 906.4,175 903.3,177 901.7,181.3 905.6,180.5 910.3,179.3 913.4,178.9 917.3,178.9 922.8,177.3 926.7,176.6 928.3,175.8 927.5,178.1 930.6,178.9 935.3,177.3 932.2,179.7 927.5,182 921.3,183.6 915.8,185.2 910.3,186.7 905.6,187.5 901.7,188.3 897.8,188.3 899.5,184 899.2,178.1 882.3,171.9 879.7,161.7 878,156.8 795.5,156.8Z"/><path d="M909,93.8 941.2,93.8 939.6,101.9 938,107.2 934.7,114.7 932,115.8 930.4,118 928.3,122.3 926.7,126.6 925.6,131.9 924,140 924,142.5 910.8,142.5 910.6,124.4 908.4,122.3 908,110Z"/><path d="M941.2,93.8 942.3,89 949.8,86.8 950.3,86.8 951.4,138 954.1,139.4 956,142.5 924,142.5 924,140 925.6,131.9 926.7,126.6 928.3,122.3 930.4,118 932,115.8 934.7,114.7 938,107.2 939.6,101.9Z"/><path d="M950.3,86.8 954.4,84.9 957.5,80.7 961.7,77.6 963.8,71.4 963.8,67.2 967.9,59.9 969,56.8 974.2,51.6 979.4,44.3 981.5,41.7 983.5,41.2 985.6,42.8 985.6,45.4 987.7,46.9 992.9,45.9 997.1,43.8 1000.2,43.8 1003.3,46.4 1006.9,49.5 1006.9,76.6 1010.6,79.7 1012.7,81.8 1013.7,88 1016.8,89.1 1019.9,92.2 1021.5,96.3 1018.9,99.5 1015.8,102.6 1012.7,104.7 1005,106.2 998.1,107.2 991.7,109.4 987.4,107.2 985.2,111.5 980.9,116.9 976.6,118 972.3,119 968,120.1 964.8,121.2 962.7,123.3 960.5,126.6 958.4,130.9 956.2,135.2 954.1,139.4 951.4,138Z"/><path d="M910.8,142.5 956,142.5 957.1,142.5 956.3,144.3 954.5,146.9 950.9,150 952.5,152.3 954.8,154.7 956.4,157.8 958.8,160.2 964.2,161.5 968.1,160.7 968.9,163.7 968.1,164.8 965,165.6 960.3,166.4 956.4,166.8 954.8,168.8 952.5,170.3 949.4,168 947.8,165.6 944.2,157.3 906.4,157.3Z"/><path d="M906.4,157.3 936.5,157.3 936.6,171 930,172 922.8,172.8 913.4,173.4 905.6,175.8 906.4,175Z"/><path d="M936.5,157.3 944.2,157.3 946,163 947.8,166.5 944,169.5 940,170.5 936.6,171Z"/><path d="M607.5,59.8 618,56.3 626.8,52.7 633.8,49.2 639.1,45.7 644.4,42.2 649.6,40.8 654.9,41.8 649.6,43.9 646.1,45.7 643.5,49.2 641.7,52.7 642.6,55.4 647.9,52.7 654.9,53.6 660.2,58 665.5,61.5 672.5,61.5 676,59.8 683.1,58 693.6,57.1 702.4,56.3 703.3,61.5 709.4,62.4 718.2,61.5 719.1,68.6 723.5,71.2 728.8,72.1 727.5,72.5 718,73.3 715,74.2 713.4,73.5 709.3,72.1 707.9,72.8 705.2,73.5 701,71.4 697,70.7 692.8,71.1 687.4,72.8 683.3,73.5 679.2,74.2 675.1,74.8 672.3,75.5 669.6,77.6 667.6,76.2 665.5,78.9 662.1,83.7 658.7,88.5 656.6,92 655.9,90.6 655.3,86.5 652.5,85.1 653.2,81.7 652.5,78.3 650.5,75.5 647.7,74.2 645,73.1 637.1,70.8 630.3,69.4 618,65ZM715,78.9 721,83.4 730.6,88 733,92.8 732,100.6 730.6,106.9 727.5,111.6 722.8,116.25 722.8,121 727.5,121 733.75,114.7 740,114 744,117.8 746.25,127.2 747.8,136.6 746.25,142.8 743,144.4 740,150.6 737,156.9 733.75,163 732.5,163.75 706.25,163.75 668,164 676,157 680.6,147.5 681.4,136.6 679,127 677,120 678,114 679.9,110 679.9,106.3 680.5,102.2 681.9,98.8 684,95.3 686,94 689.4,90.6 692.8,90.6 692.2,96 694.2,97.4 695.6,94 697,88.5 699.7,86.5 703.1,85.1 701,82.4 701.7,79.6 705.2,77.6 709.9,78.3ZM627,32 635,28 642,25 640,27 632,31Z"/><path d="M575,59 577.6,56.3 586.4,54.5 596.9,52.7 598.7,58 604,55 607.5,59.8 618,65 630.3,69.4 637.1,70.8 645,73.1 647.7,74.2 650.5,75.5 652.5,78.3 653.2,81.7 652.5,85.1 655.3,86.5 655.9,90.6 656.6,92 655.9,92.6 651.8,98.1 649.8,102.9 650.5,103.5 653.9,100.1 658,96.7 661.4,93.3 663.5,89.9 665.5,87.1 668.2,85.1 671,83.7 670.3,85.8 666.9,90.6 664.1,95.3 661.4,99.4 659.4,104.9 658.7,110 656.2,114.2 655,121.3 653.8,130 652.5,140 652.5,146.25 605,146.25 602.5,142.5 595,132.5 593.75,125 591,125 590,117.5 585,110 575,102.5 567.5,95 566,87.5 565,77.5 574,70Z"/><path d="M486,8.2 523.5,8.2 523.5,0 528.8,0 529.8,3.9 531.3,12.7 533.7,14.2 538.6,14.6 542.5,16.1 547.4,18.1 553.2,17.1 558.1,16.6 564,17.6 567.9,19.5 571.8,22.5 574.7,22.9 577.7,22 580,22.9 586.4,27.2 595.2,25.5 600.4,27.2 612.7,28.1 620.6,29.9 612.7,33.4 603.9,38.7 595.2,43.9 586.4,51 579.3,56.3 575,59 574,70 565,77.5 566,87.5 567.5,95 575,102.5 585,110 590,117.5 591,125 500.2,125 500.2,110 500,86 497.5,82.5 495,75 497.5,73 495,62.5 492.5,50 490,25Z"/><path d="M500.2,125 591,125 593.75,125 595,132.5 602.5,142.5 606,147.5 610,152.5 611,160 607.5,166 600,170 596,174 595,180 590,187.5 512.8,188 511.3,181.3 509.8,175.4 508.4,169.4 506.9,163.5 505.4,157.5 502.4,153.1 500.9,147.1 498.7,145.7 498,141.2 498.7,136.7 499.4,130.8 498,126.3Z"/><path d="M512.8,188 590,187.5 590,192.5 588.75,197.5 590,205.3 598,213.4 603.4,221.4 607.4,222.7 611.4,225.4 608.7,234.8 611.4,240.1 616.7,244.1 622.1,248.1 624.8,256.2 626.1,261.5 628.8,263.5 626.5,269 622.5,275.5 620.8,280.2 620.8,285.6 610,285.6 611.4,276.2 607.5,275 533.75,275 532.5,264.5 532.5,220 531.25,215 524.7,208.1 526.2,205.1 523.2,202.1 518.8,200.6 515.8,193.2Z"/><path d="M594,146.25 652.5,146.25 655,155 657.5,165 658,170 657.5,220.1 658.2,226.7 655.5,233.4 651.5,240.1 648.8,246.8 647.5,253.5 641.5,258.8 639.5,262.2 634.1,260.9 628.8,263.5 626.1,261.5 624.8,256.2 622.1,248.1 616.7,244.1 611.4,240.1 608.7,234.8 611.4,225.4 607.4,222.7 603.4,221.4 598,213.4 590,205.3 588.75,197.5 590,192.5 590,187.5 595,180 596,174 600,170 607.5,166 611,160 610,152.5 606,147.5Z"/><path d="M657.5,165 668,164 706.25,163.75 706.25,219.5 705.4,220.3 705.7,223.9 706.6,225.1 705.4,226.3 703.1,226.3 698.9,228.1 695.9,227.5 695,228.7 694.5,231.7 691.8,234.6 689,237.4 685,241.5 679.6,240.1 675.6,242.8 670.2,245.5 664.9,246.1 659.5,244.8 652.9,245.5 648.8,246.8 651.5,240.1 655.5,233.4 658.2,226.7 657.5,220.1 658,170Z"/><path d="M706.25,163.75 732.5,163.75 740,167.5 747.5,170 757.5,168.75 767.5,165 775,161.25 782.5,158.75 782.3,187.1 781,188.9 781.5,192.5 779.2,197.8 778.3,202.3 776.6,205.9 772.1,209.4 767.6,213 764.1,214.8 762.3,216.6 761.4,219.3 759.6,221.9 756.9,223.7 754.3,225.5 750.7,230 748,232.6 746.2,234.4 744.4,232.6 741.8,230 738.2,229.1 735.5,229.5 732.8,229.1 728.4,228.2 724.8,227.3 720.4,225.5 716.8,223.7 715.5,222.7 713.8,221.2 712.3,220 709.3,220.3 707.8,219.2 706.25,219.5Z"/></g>
<g fill="#fff"><path d="M372,556 378,559 384,564 388,571 391.5,578.5 396,586 401,595.5 400,596 395,587 390.5,579 387,572 383,566 377,561Z"/><path d="M380,566 383,572 385.5,579 389,585 392,592 391,592.5 387.5,586 384.5,580 382,573Z"/><path d="M39.6,241.2 41.5,240 43,244 46,250 45,253 42,248Z"/><path d="M34.5,14 36,21 38.2,27 40.5,35.5 41,30 39.5,24 38,18 36.5,12Z"/><path d="M854.4,228.5 858.5,229.1 860.9,234.5 864.5,240.4 865.6,242.8 864.5,247.5 863.3,252.3 862.1,257 861.5,261.8 862.1,265.9 860.9,267.7 857.3,266.5 853.8,266.5 855,264.2 856.1,257 855.5,252.3 856.1,247.5 855,242.8 850.2,239.6 844.3,237.3 850.2,238.8 854.5,240.5 855,236 855.5,233.3Z"/><path d="M850.2,286.7 854.3,285.7 858.5,283.6 862.6,282.6 865.8,284.6 867.8,288.8 869.9,293 869.9,298.2 867.8,300.2 863.7,302.3 859.5,304.4 855.4,306.5 851.2,307 851.2,303.4 854.3,301.3 852.2,299.2 855.4,298.2 859.5,298.2 862.6,294 863.7,289.8 861.6,286.7 856.4,287.2 851.2,287.8Z"/></g>
<g fill="none" stroke="#000" stroke-width="0.8" stroke-linejoin="round" opacity="0.3"><path d="M372,556 378,559 384,564 388,571 391.5,578.5 396,586 401,595.5 400,596 395,587 390.5,579 387,572 383,566 377,561Z"/><path d="M380,566 383,572 385.5,579 389,585 392,592 391,592.5 387.5,586 384.5,580 382,573Z"/><path d="M39.6,241.2 41.5,240 43,244 46,250 45,253 42,248Z"/><path d="M34.5,14 36,21 38.2,27 40.5,35.5 41,30 39.5,24 38,18 36.5,12Z"/><path d="M854.4,228.5 858.5,229.1 860.9,234.5 864.5,240.4 865.6,242.8 864.5,247.5 863.3,252.3 862.1,257 861.5,261.8 862.1,265.9 860.9,267.7 857.3,266.5 853.8,266.5 855,264.2 856.1,257 855.5,252.3 856.1,247.5 855,242.8 850.2,239.6 844.3,237.3 850.2,238.8 854.5,240.5 855,236 855.5,233.3Z"/><path d="M850.2,286.7 854.3,285.7 858.5,283.6 862.6,282.6 865.8,284.6 867.8,288.8 869.9,293 869.9,298.2 867.8,300.2 863.7,302.3 859.5,304.4 855.4,306.5 851.2,307 851.2,303.4 854.3,301.3 852.2,299.2 855.4,298.2 859.5,298.2 862.6,294 863.7,289.8 861.6,286.7 856.4,287.2 851.2,287.8Z"/></g>
<g fill="#fff"><rect x="53.2" y="35.6" width="38.41" height="18.8"/><rect x="252.8" y="48.2" width="38.41" height="18.8"/><rect x="410.55" y="31.5" width="38.41" height="18.8"/><rect x="418.42" y="101" width="28.96" height="18.8"/><rect x="284.8" y="126.85" width="38.41" height="18.8"/><rect x="515.55" y="40.2" width="38.41" height="18.8"/><rect x="600.2" y="94.35" width="38.41" height="18.8"/><rect x="686.4" y="129.5" width="38.41" height="18.8"/><rect x="534.05" y="150" width="38.41" height="18.8"/><rect x="55.2" y="102.6" width="38.41" height="18.8"/><rect x="164.55" y="116.2" width="38.41" height="18.8"/><rect x="119.3" y="200" width="38.41" height="18.8"/><rect x="213.8" y="201.6" width="38.41" height="18.8"/><rect x="64.7" y="249.2" width="38.41" height="18.8"/><rect x="431.3" y="162.2" width="38.41" height="18.8"/><rect x="320.2" y="212.5" width="38.41" height="18.8"/><rect x="447.8" y="223.2" width="38.41" height="18.8"/><rect x="551.2" y="226.6" width="38.41" height="18.8"/><rect x="607.05" y="188" width="38.41" height="18.8"/><rect x="662.8" y="196" width="38.41" height="18.8"/><rect x="723.8" y="186.85" width="38.41" height="18.8"/><rect x="687.05" y="246" width="38.41" height="18.8"/><rect x="811.3" y="169.7" width="38.41" height="18.8"/><rect x="751.4" y="226" width="38.41" height="18.8"/><rect x="804.05" y="245.5" width="38.41" height="18.8"/><rect x="837.05" y="210.35" width="38.41" height="18.8"/><rect x="788.8" y="285.2" width="38.41" height="18.8"/><rect x="856.1" y="131.6" width="38.41" height="18.8"/><rect x="901.7" y="95.3" width="38.41" height="18.8"/><rect x="926.22" y="118.2" width="28.96" height="18.8"/><rect x="963.5" y="78.9" width="38.41" height="18.8"/><rect x="467.55" y="291.2" width="38.41" height="18.8"/><rect x="558.77" y="291.2" width="28.96" height="18.8"/><rect x="423.9" y="380" width="38.41" height="18.8"/><rect x="555.77" y="362.1" width="28.96" height="18.8"/><rect x="598.8" y="336.6" width="38.41" height="18.8"/><rect x="661.12" y="281.6" width="28.96" height="18.8"/><rect x="652.8" y="363.1" width="38.41" height="18.8"/><rect x="714.55" y="363.1" width="38.41" height="18.8"/><rect x="766.92" y="320.2" width="28.96" height="18.8"/><rect x="211.8" y="315.85" width="38.41" height="18.8"/><rect x="311.55" y="315.85" width="38.41" height="18.8"/><rect x="249.8" y="464.9" width="38.41" height="18.8"/><rect x="746.1" y="460.3" width="38.41" height="18.8"/></g>
<g font-size="17" text-anchor="middle" fill="#000" stroke="#000" stroke-width="0.3"><text x="72.4" y="51.2">3156</text><text x="272" y="63.8">2410</text><text x="429.75" y="47.1">1063</text><text x="432.9" y="116.6">757</text><text x="304" y="142.45">1225</text><text x="534.75" y="55.8">1471</text><text x="619.4" y="109.95">1944</text><text x="705.6" y="145.1">1960</text><text x="553.25" y="165.6">1444</text><text x="74.4" y="118.2">2390</text><text x="183.75" y="131.8">1597</text><text x="138.5" y="215.6">3351</text><text x="233" y="217.2">3785</text><text x="83.9" y="264.8">3362</text><text x="450.5" y="177.8">1489</text><text x="339.4" y="228.1">1936</text><text x="467" y="238.8">4355</text><text x="570.4" y="242.2">2775</text><text x="626.25" y="203.6">1279</text><text x="682" y="211.6">2503</text><text x="743" y="202.45">5159</text><text x="706.25" y="261.6">2532</text><text x="830.5" y="185.3">1161</text><text x="770.6" y="241.6">1326</text><text x="823.25" y="261.1">1459</text><text x="856.25" y="225.95">1320</text><text x="808" y="300.8">1976</text><text x="875.3" y="147.2">1335</text><text x="920.9" y="110.9">1136</text><text x="940.7" y="133.8">808</text><text x="982.7" y="94.5">1081</text><text x="486.75" y="306.8">1669</text><text x="573.25" y="306.8">972</text><text x="443.1" y="395.6">1063</text><text x="570.25" y="377.7">950</text><text x="618" y="352.2">1826</text><text x="675.6" y="297.2">489</text><text x="672" y="378.7">1109</text><text x="733.75" y="378.7">1005</text><text x="781.4" y="335.8">982</text><text x="231" y="331.45">1909</text><text x="330.75" y="331.45">1530</text><text x="269" y="480.5">1326</text><text x="765.3" y="475.9">2987</text></g>
<g font-size="17" fill="#000" stroke="#000" stroke-width="0.3"><text x="17.75" y="424.5">852</text><text x="959.7" y="157.6">1077</text><text x="953.5" y="185.8">RI - 1347</text><text x="912.5" y="204.3">CT - 1250</text><text x="895.5" y="224.5">NJ - 2000</text><text x="880" y="244.1">DE - 1268</text></g>
<rect x="830.6" y="355.1" width="159" height="283.7" rx="12" ry="12" fill="#fff" stroke="#bcbcbc" stroke-width="1"/>
<g font-size="17" text-anchor="middle" fill="#000" stroke="#000" stroke-width="0.3"><text x="909.7" y="383.2">Average words</text><text x="909.6" y="402">in a Bill</text></g>
<g font-size="17" fill="#000" stroke="#000" stroke-width="0.3"><rect x="843" y="426.6" width="20.8" height="20.8" fill="#FFFFCC" stroke="#aaaaaa" stroke-width="0.7"/><text x="876.3" y="443.2">489 - 853</text><rect x="843" y="452.16" width="20.8" height="20.8" fill="#FFE999" stroke="#aaaaaa" stroke-width="0.7"/><text x="876.3" y="468.76">853 - 1,162</text><rect x="843" y="477.72" width="20.8" height="20.8" fill="#FEC965" stroke="#aaaaaa" stroke-width="0.7"/><text x="876.3" y="494.32">1,162 - 1,531</text><rect x="843" y="503.28" width="20.8" height="20.8" fill="#FD9B42" stroke="#aaaaaa" stroke-width="0.7"/><text x="876.3" y="519.88">1,531 - 2,001</text><rect x="843" y="528.84" width="20.8" height="20.8" fill="#FB5F2E" stroke="#aaaaaa" stroke-width="0.7"/><text x="876.3" y="545.44">2,001 - 2,776</text><rect x="843" y="554.4" width="20.8" height="20.8" fill="#E31E1E" stroke="#aaaaaa" stroke-width="0.7"/><text x="876.3" y="571">2,776 - 3,786</text><rect x="843" y="579.96" width="20.8" height="20.8" fill="#C20023" stroke="#aaaaaa" stroke-width="0.7"/><text x="876.3" y="596.56">3,786 - 4,356</text><rect x="843" y="605.52" width="20.8" height="20.8" fill="#800026" stroke="#aaaaaa" stroke-width="0.7"/><text x="876.3" y="622.12">4,356 - 5,159</text></g>
<g>
<text x="591.6" y="582.9" font-family="Liberation Serif, serif" font-size="14.3" letter-spacing="0.75" text-anchor="middle" fill="#224a7c" stroke="#224a7c" stroke-width="0.45">BILL TRACK</text>
<text transform="translate(577.6,611.4) scale(0.66,1)" x="0" y="0" font-family="Liberation Serif, serif" font-weight="bold" font-size="33" fill="#224a7c">5</text>
<ellipse cx="597.15" cy="598.3" rx="6.95" ry="7.7" fill="#224a7c"/><ellipse cx="597.15" cy="598.3" rx="3.7" ry="5.7" fill="#fff"/>
<path d="M567.7,596.2 L568.5,598.6 L571,598.6 L569,600.1 L569.8,602.5 L567.7,601 L565.6,602.5 L566.4,600.1 L564.4,598.6 L566.9,598.6Z" fill="#224a7c"/>
<path d="M614,596.2 L614.8,598.6 L617.3,598.6 L615.3,600.1 L616.1,602.5 L614,601 L611.9,602.5 L612.7,600.1 L610.7,598.6 L613.2,598.6Z" fill="#224a7c"/>
<g fill="#d01f34">
<path d="M544.6,617.6 C552,617.4 560,617.5 566,618.3 C575,619.5 590,622.5 601.5,623.3 C614,623.6 628,621.5 639,619.2 L635.9,631 C628,632 615,632.5 601.5,629.4 C590,627.5 575,623 565.6,621.7 C558,620.5 550,619.8 544.6,619.7Z"/>
<path d="M544.6,621 C552,621.2 560,622.5 570.8,625.3 C580,628 592,633 601.5,635.6 C612,638.3 622,639 633.8,638.1 L630.8,649.4 C622,649.3 612,648 601.5,644.8 C592,641.8 580,635.5 570.8,630.5 C562,626 552,623.3 545.1,622.8Z"/>
<path d="M545.6,624.1 C552,624.8 560,627 565.6,630 C572,633.5 580,640 586.1,644.8 C592,649 600,653.5 611.8,656.1 C618,657.3 623,657.4 628.2,657.1 L625.1,667.9 C620,667 616,665.8 611.8,664.3 C605,661.6 601,660 596.4,656.5 C590,652 584,646 579,642.8 C574,639 571,636.5 568.7,634.6 C564,631 560,629 558.5,628.4 C554,626.5 550,625.5 545.6,624.8Z"/>
</g>
</g>
</svg>
</body></html>
